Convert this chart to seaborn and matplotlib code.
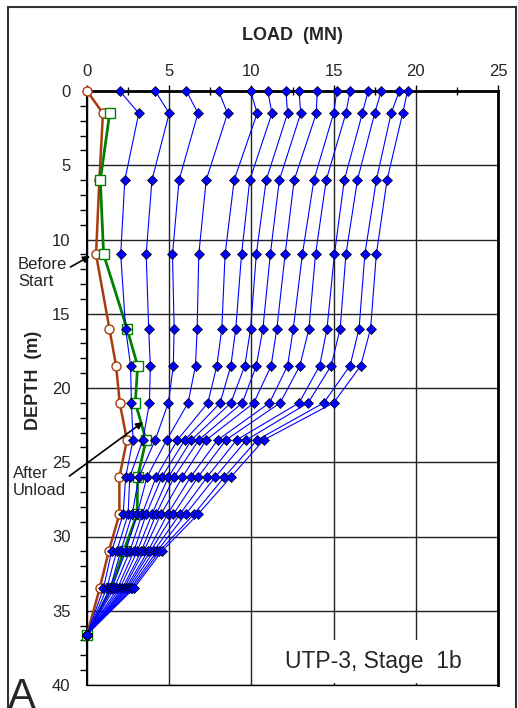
import numpy as np
import pandas as pd
import matplotlib
matplotlib.use("Agg")
import matplotlib.pyplot as plt
from matplotlib.patches import Rectangle
import seaborn as sns

sns.set_style("white")
plt.rcParams['font.family'] = ['Liberation Sans', 'DejaVu Sans']

# ---------------- data ----------------
depths = [0, 1.5, 6, 11, 16, 18.5, 21, 23.5, 26, 28.5, 31, 33.5, 36.6]

load_d0 = [2.0, 4.15, 6.05, 8.0, 9.95, 11.0, 12.1, 12.9, 14.0, 15.2, 16.0, 17.1, 17.9, 19.0, 19.5]
load_d1_5 = [3.15, 5.0, 6.75, 8.55, 10.35, 11.25, 12.2, 13.0, 13.95, 15.0, 15.75, 16.75, 17.5, 18.5, 19.2]
load_d6 = [2.3, 3.95, 5.6, 7.25, 8.95, 9.9, 10.9, 11.7, 12.6, 13.8, 14.55, 15.65, 16.45, 17.6, 18.25]
load_d11 = [2.05, 3.6, 5.2, 6.8, 8.4, 9.4, 10.3, 11.15, 12.05, 13.1, 13.9, 15.05, 15.75, 16.9, 17.6]
load_d16 = [2.35, 3.75, 5.3, 6.7, 8.2, 9.05, 9.95, 10.7, 11.55, 12.55, 13.5, 14.6, 15.4, 16.55, 17.25]
load_d18_5 = [2.65, 3.85, 5.25, 6.6, 7.9, 8.75, 9.6, 10.3, 11.2, 12.2, 12.95, 14.15, 14.85, 16.0, 16.65]
load_d21 = [2.7, 3.8, 4.95, 6.15, 7.35, 8.1, 8.75, 9.45, 10.15, 11.1, 11.75, 12.9, 13.45, 14.4, 15.0]
load_d23_5 = [2.8, 3.4, 4.15, 4.85, 5.5, 5.95, 6.35, 6.8, 7.25, 7.95, 8.45, 9.1, 9.7, 10.35, 10.75]
load_d26 = [2.35, 2.6, 3.15, 3.65, 4.2, 4.55, 4.95, 5.3, 5.8, 6.3, 6.75, 7.3, 7.8, 8.35, 8.75]
load_d28_5 = [2.2, 2.5, 2.75, 3.05, 3.35, 3.6, 3.95, 4.2, 4.5, 4.9, 5.25, 5.65, 6.0, 6.5, 6.75]
load_d31 = [1.5, 1.8, 2.05, 2.35, 2.6, 2.85, 3.05, 3.3, 3.45, 3.7, 3.85, 4.05, 4.25, 4.4, 4.55]
load_d33_5 = [1.0, 1.2, 1.4, 1.5, 1.65, 1.85, 2.0, 2.15, 2.25, 2.35, 2.45, 2.55, 2.65, 2.75, 2.85]
load_d36_6 = [0.0] * 15

before_start = [0.0, 0.97, 0.75, 0.55, 1.36, 1.77, 1.99, 2.43, 1.97, 1.97, 1.32, 0.77, 0.0]
after_unload_depths = [1.5, 6, 11, 16, 18.5, 21, 23.5, 26, 28.5, 31, 33.5, 36.6]
after_unload = [1.38, 0.81, 1.01, 2.43, 3.08, 2.94, 3.59, 3.08, 3.05, 2.23, 1.46, 0.0]

x_ticks = [0, 5, 10, 15, 20, 25]
y_ticks = [0, 5, 10, 15, 20, 25, 30, 35, 40]

rows = [load_d0, load_d1_5, load_d6, load_d11, load_d16, load_d18_5, load_d21,
        load_d23_5, load_d26, load_d28_5, load_d31, load_d33_5, load_d36_6]
recs = []
for di, (d, row) in enumerate(zip(depths, rows)):
    for ci, v in enumerate(row):
        recs.append({"curve": ci, "order": di, "depth": d, "load": v})
df_blue = pd.DataFrame(recs).sort_values(["curve", "order"])
df_before = pd.DataFrame({"depth": depths, "load": before_start, "curve": 0})
df_after = pd.DataFrame({"depth": after_unload_depths, "load": after_unload, "curve": 0})

# ---------------- figure ----------------
W, H = 518, 708
fig = plt.figure(figsize=(W / 100, H / 100), dpi=100)
ax = fig.add_axes([87 / W, 1 - 685 / H, 411 / W, 594 / H])

sns.lineplot(data=df_before, x="load", y="depth", units="curve", estimator=None, sort=False, ax=ax,
             color="#A83C0C", lw=1.8, marker="o", markersize=6.5, clip_on=False,
             markerfacecolor="white", markeredgecolor="#A83C0C", markeredgewidth=1.0, zorder=3)
sns.lineplot(data=df_after, x="load", y="depth", units="curve", estimator=None, sort=False, ax=ax,
             color="#008000", lw=2.0, marker="s", markersize=7, clip_on=False,
             markerfacecolor="white", markeredgecolor="#008000", markeredgewidth=1.0, zorder=3)
sns.lineplot(data=df_blue, x="load", y="depth", units="curve", estimator=None, sort=False, ax=ax,
             color="#0000FF", lw=0.8, marker="D", markersize=4.8, clip_on=False,
             markerfacecolor="#0000FF", markeredgecolor="black", markeredgewidth=0.5, zorder=4)

ax.set_xlim(0, 25)
ax.set_ylim(40, 0)
ax.xaxis.tick_top()
ax.set_xticks(x_ticks)
ax.set_xticks(np.arange(2.5, 25, 5), minor=True)
ax.set_yticks(y_ticks)
ax.set_yticks(np.arange(0, 41, 1), minor=True)
ax.set_xticklabels([str(t) for t in x_ticks], fontsize=12)
ax.set_yticklabels([str(t) for t in y_ticks], fontsize=12)
ax.tick_params(axis="x", which="major", direction="out", length=4, width=1, pad=5, color="black")
ax.tick_params(axis="x", which="minor", direction="inout", length=6, width=1, color="black")
ax.tick_params(axis="y", which="both", direction="out", length=5, width=1, pad=7, color="black")
ax.tick_params(axis="y", which="minor", left=True)
ax.grid(True, which="major", color="#222222", lw=1.0, zorder=1)
ax.set_axisbelow(True)
ax.set_xlabel("")
ax.set_ylabel("")
for s in ax.spines.values():
    s.set_visible(True)
    s.set_color("black")
    s.set_linewidth(1.0)
ax.spines["top"].set_linewidth(2.0)
ax.spines["right"].set_linewidth(2.0)
ax.spines["left"].set_linewidth(1.5)

ax.text(0.5, 1 + (91 - 35) / 594, "LOAD  (MN)", transform=ax.transAxes,
        ha="center", va="center", fontsize=13, fontweight="bold")
ax.text((34 - 87) / 411, 1 - (380 - 91) / 594, "DEPTH  (m)", transform=ax.transAxes,
        ha="center", va="center", rotation=90, fontsize=13, fontweight="bold")

ax.text(17.4, 38.85, "UTP-3, Stage  1b", ha="center", va="baseline", fontsize=16.5,
        bbox=dict(boxstyle="square,pad=0.45", fc="white", ec="none"), zorder=5)

def px2data(px, py):
    return ((px - 87) / 411 * 25, (py - 91) / 594 * 40)

ax.annotate("Before\nStart", xy=px2data(90, 256), xytext=px2data(18, 273),
            textcoords="data", ha="left", va="center", fontsize=12, linespacing=1.15,
            annotation_clip=False,
            arrowprops=dict(arrowstyle="-|>", color="black", lw=1.2, shrinkA=0, shrinkB=0,
                            mutation_scale=10, relpos=(0.85, 0.5)))
ax.annotate("After\nUnload", xy=px2data(143, 422), xytext=px2data(13, 482),
            textcoords="data", ha="left", va="center", fontsize=12, linespacing=1.15,
            annotation_clip=False,
            arrowprops=dict(arrowstyle="-|>", color="black", lw=1.2, shrinkA=0, shrinkB=0,
                            mutation_scale=10, relpos=(0.95, 0.55)))

fig.text(8 / W, 0.0, "A", fontsize=30, ha="left", va="baseline")
fig.patches.append(Rectangle((8 / W, -0.01), (516 - 8) / W, (H - 7) / H + 0.01,
                             transform=fig.transFigure, fill=False, ec="#333333", lw=1.5))

fig.savefig("out.png", dpi=100)
